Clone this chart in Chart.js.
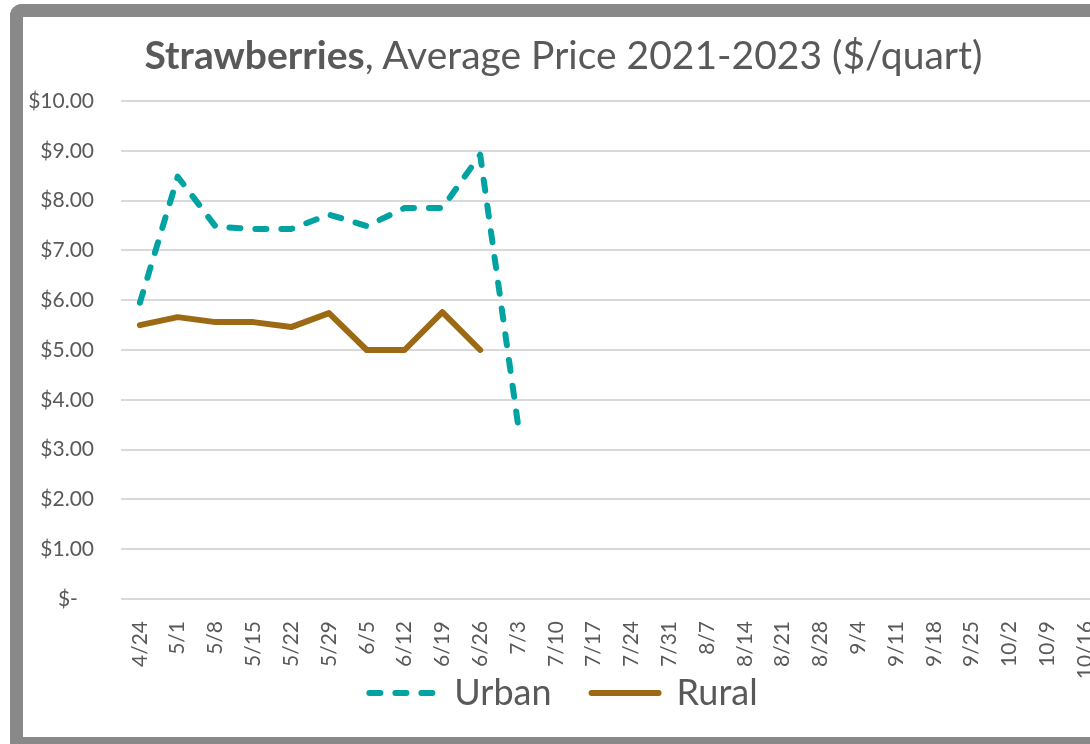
<!DOCTYPE html>
<html lang="en">
<head>
    <meta charset="UTF-8">
    <title>Strawberries, Average Price 2021-2023</title>
    <script src="https://cdn.jsdelivr.net/npm/chart.js"></script>
    <style>
        body {
            margin: 0;
            background: #fff;
            font-family: 'Lato', sans-serif;
        }

        /* viewport-sized clip so the frame can run off the right and bottom edges */
        .page {
            position: relative;
            width: 1090px;
            height: 744px;
            overflow: hidden;
        }

        .frame {
            position: absolute;
            left: 10px;
            top: 4px;
            width: 1200px;
            height: 720px;
            border: 13px solid #898989;
            border-right: none;
            border-radius: 12px 0 0 0;
            background: #fff;
        }

        .chart-title {
            position: absolute;
            left: 0;
            top: 14px;
            width: 1081px;
            text-align: center;
            font-size: 39px;
            line-height: 46px;
            color: #595959;
            white-space: nowrap;
        }

        .chart-box {
            position: absolute;
            left: 0;
            top: 0;
            width: 1081px;
            height: 720px;
        }
    </style>
</head>
<body>
    <div class="page">
        <div class="frame">
            <div class="chart-box">
                <canvas id="priceChart" width="1081" height="720"></canvas>
            </div>
            <div class="chart-title"><b>Strawberries</b>, Average Price 2021-2023 ($/quart)</div>
        </div>
    </div>

    <script>
        // Weekly labels
        const weeks = ['4/24', '5/1', '5/8', '5/15', '5/22', '5/29', '6/5', '6/12', '6/19', '6/26',
            '7/3', '7/10', '7/17', '7/24', '7/31', '8/7', '8/14', '8/21', '8/28', '9/4',
            '9/11', '9/18', '9/25', '10/2', '10/9', '10/16'];

        // Average price ($/quart)
        const urbanPrices = [5.95, 8.48, 7.48, 7.43, 7.43, 7.72, 7.49, 7.85, 7.85, 8.92, 3.51];
        const ruralPrices = [5.50, 5.66, 5.56, 5.56, 5.46, 5.74, 5.00, 5.00, 5.76, 5.00];

        const yTicks = [0, 1, 2, 3, 4, 5, 6, 7, 8, 9, 10];

        const textColor = '#595959';
        const gridColor = '#d9d9d9';

        const ctx = document.getElementById('priceChart').getContext('2d');

        const priceChart = new Chart(ctx, {
            type: 'line',
            data: {
                labels: weeks,
                datasets: [{
                    label: 'Urban',
                    data: urbanPrices,
                    borderColor: '#00a3a1',
                    backgroundColor: '#00a3a1',
                    borderWidth: 6,
                    borderDash: [11, 15],
                    borderCapStyle: 'round',
                    borderJoinStyle: 'round',
                    pointRadius: 0,
                    tension: 0
                }, {
                    label: 'Rural',
                    data: ruralPrices,
                    borderColor: '#9c6914',
                    backgroundColor: '#9c6914',
                    borderWidth: 6,
                    borderCapStyle: 'round',
                    borderJoinStyle: 'round',
                    pointRadius: 0,
                    tension: 0
                }]
            },
            options: {
                responsive: false,
                animation: false,
                layout: {
                    padding: { left: 0, right: 0, top: 84, bottom: 16 }
                },
                scales: {
                    x: {
                        offset: true,
                        grid: { display: false },
                        border: { display: false },
                        ticks: {
                            color: textColor,
                            font: { family: 'Lato', size: 21 },
                            minRotation: 90,
                            maxRotation: 90,
                            autoSkip: false,
                            padding: 14
                        },
                        afterFit: (scale) => {
                            scale.height = 36;
                            // plot runs to the canvas edge, the last label is cut like the original
                            scale.paddingLeft = 0;
                            scale.paddingRight = 0;
                            // the rotated labels hang below the fitted box, don't clip them
                            scale._computeLabelArea = () => undefined;
                        }
                    },
                    y: {
                        min: 0,
                        max: 10,
                        afterBuildTicks: (scale) => {
                            scale.ticks = yTicks.map(v => ({ value: v }));
                        },
                        grid: {
                            color: gridColor,
                            lineWidth: 2,
                            drawTicks: false
                        },
                        border: { display: false },
                        ticks: {
                            color: textColor,
                            font: { family: 'Lato', size: 21 },
                            padding: 27,
                            callback: (v) => v === 0 ? '$-   ' : '$' + v.toFixed(2)
                        },
                        afterFit: (scale) => { scale.width = 98; }
                    }
                },
                plugins: {
                    legend: {
                        position: 'bottom',
                        labels: {
                            usePointStyle: true,
                            pointStyle: 'line',
                            pointStyleWidth: 67,
                            color: textColor,
                            font: { family: 'Lato', size: 36 },
                            padding: 40,
                            generateLabels: (chart) => {
                                const items = Chart.defaults.plugins.legend.labels.generateLabels(chart);
                                items.forEach(item => {
                                    const ds = chart.data.datasets[item.datasetIndex];
                                    item.strokeStyle = ds.borderColor;
                                    item.lineWidth = ds.borderWidth;
                                    item.lineDash = ds.borderDash || [];
                                    item.lineCap = 'round';
                                });
                                return items;
                            }
                        }
                    },
                    tooltip: { enabled: false }
                }
            }
        });
    </script>
</body>
</html>
